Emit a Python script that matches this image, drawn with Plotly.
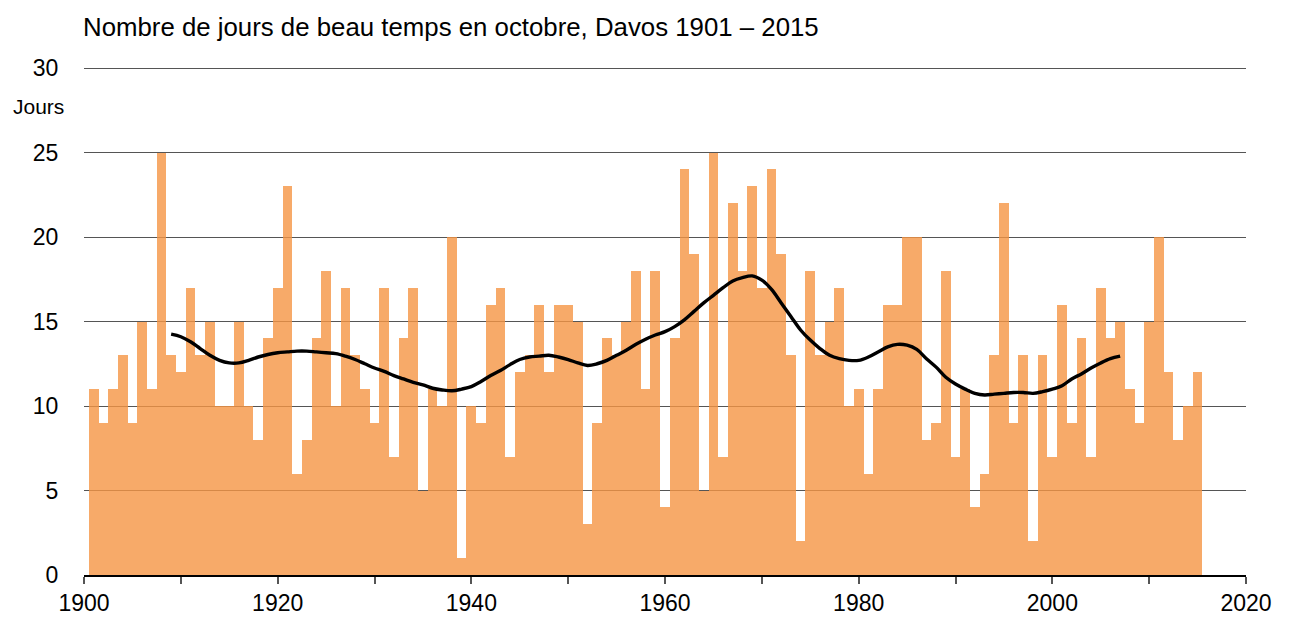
import plotly.graph_objects as go

years = list(range(1901, 2016))
days = [
    11, 9, 11, 13, 9, 15, 11, 25, 13, 12,      # 1901-1910
    17, 13, 15, 10, 10, 15, 10, 8, 14, 17,     # 1911-1920
    23, 6, 8, 14, 18, 10, 17, 13, 11, 9,       # 1921-1930
    17, 7, 14, 17, 5, 11, 10, 20, 1, 10,       # 1931-1940
    9, 16, 17, 7, 12, 13, 16, 12, 16, 16,      # 1941-1950
    15, 3, 9, 14, 13, 15, 18, 11, 18, 4,       # 1951-1960
    14, 24, 19, 5, 25, 7, 22, 18, 23, 17,      # 1961-1970
    24, 19, 13, 2, 18, 13, 15, 17, 10, 11,     # 1971-1980
    6, 11, 16, 16, 20, 20, 8, 9, 18, 7,        # 1981-1990
    11, 4, 6, 13, 22, 9, 13, 2, 13, 7,         # 1991-2000
    16, 9, 14, 7, 17, 14, 15, 11, 9, 15,       # 2001-2010
    20, 12, 8, 10, 12,                         # 2011-2015
]

smooth_years = list(range(1909, 2008))
smooth_vals = [
    14.25, 14.1, 13.8, 13.4, 13.0, 12.7, 12.55, 12.55, 12.7, 12.9, 13.05,   # 1909-1919
    13.15, 13.2, 13.25, 13.25, 13.2, 13.15, 13.1, 12.95, 12.75, 12.5, 12.25, # 1920-1930
    12.05, 11.8, 11.6, 11.4, 11.25, 11.05, 10.95, 10.9, 11.0, 11.15,         # 1931-1940
    11.45, 11.8, 12.1, 12.45, 12.75, 12.9, 12.95, 13.0, 12.9, 12.75,         # 1941-1950
    12.55, 12.4, 12.5, 12.7, 13.0, 13.3, 13.65, 13.95, 14.2, 14.4,           # 1951-1960
    14.7, 15.1, 15.6, 16.1, 16.55, 17.0, 17.4, 17.6, 17.7, 17.45,            # 1961-1970
    16.9, 16.1, 15.3, 14.5, 13.9, 13.4, 13.0, 12.8, 12.7, 12.7,              # 1971-1980
    12.9, 13.2, 13.5, 13.65, 13.6, 13.35, 12.8, 12.3, 11.7, 11.3,            # 1981-1990
    11.0, 10.75, 10.65, 10.7, 10.75, 10.8, 10.8, 10.75, 10.85, 11.0,         # 1991-2000
    11.2, 11.6, 11.9, 12.25, 12.55, 12.8, 12.95,                             # 2001-2007
]

title_text = "Nombre de jours de beau temps en octobre, Davos 1901 – 2015"
y_unit = "Jours"

FONT = "Liberation Sans, Arial, sans-serif"

fig = go.Figure()
fig.add_trace(go.Bar(
    x=years, y=days, width=1,
    marker=dict(color="rgba(245,149,68,0.8)", line=dict(width=0)),
    showlegend=False, hoverinfo="x+y",
))
fig.add_trace(go.Scatter(
    x=smooth_years, y=smooth_vals, mode="lines",
    line=dict(color="black", width=3.4, shape="spline", smoothing=1.0),
    showlegend=False,
))

fig.update_layout(
    width=1287, height=611,
    margin=dict(l=76, r=49, t=58, b=44),
    paper_bgcolor="white", plot_bgcolor="white",
    bargap=0,
    font=dict(family=FONT, color="black", size=24),
    xaxis=dict(
        range=[1900, 2020], dtick=20, tick0=1900,
        showgrid=False, zeroline=False, automargin=False,
        showline=True, linecolor="black", linewidth=1.5,
        ticks="outside", ticklen=7, tickcolor="#555", tickwidth=1.5,
        minor=dict(dtick=10, tick0=1900, ticks="outside", ticklen=7,
                   tickcolor="#555", tickwidth=1.5, showgrid=False),
        tickfont=dict(size=23, family=FONT),
    ),
    yaxis=dict(
        range=[0, 30.12], dtick=5, tick0=0,
        showgrid=True, gridcolor="#555555", gridwidth=1,
        zeroline=False, showline=False, automargin=False,
        ticks="outside", ticklen=20, tickcolor="rgba(0,0,0,0)",
        tickfont=dict(size=23, family=FONT),
    ),
    annotations=[
        dict(text=title_text, xref="paper", yref="paper", x=-0.003, y=1.077,
             xanchor="left", yanchor="middle", showarrow=False,
             font=dict(size=25.8, family=FONT, color="black")),
        dict(text=y_unit, xref="paper", yref="paper", x=-0.0155, y=0.921,
             xanchor="right", yanchor="middle", showarrow=False,
             font=dict(size=21, family=FONT, color="black")),
    ],
)

fig.write_html("out.html")
